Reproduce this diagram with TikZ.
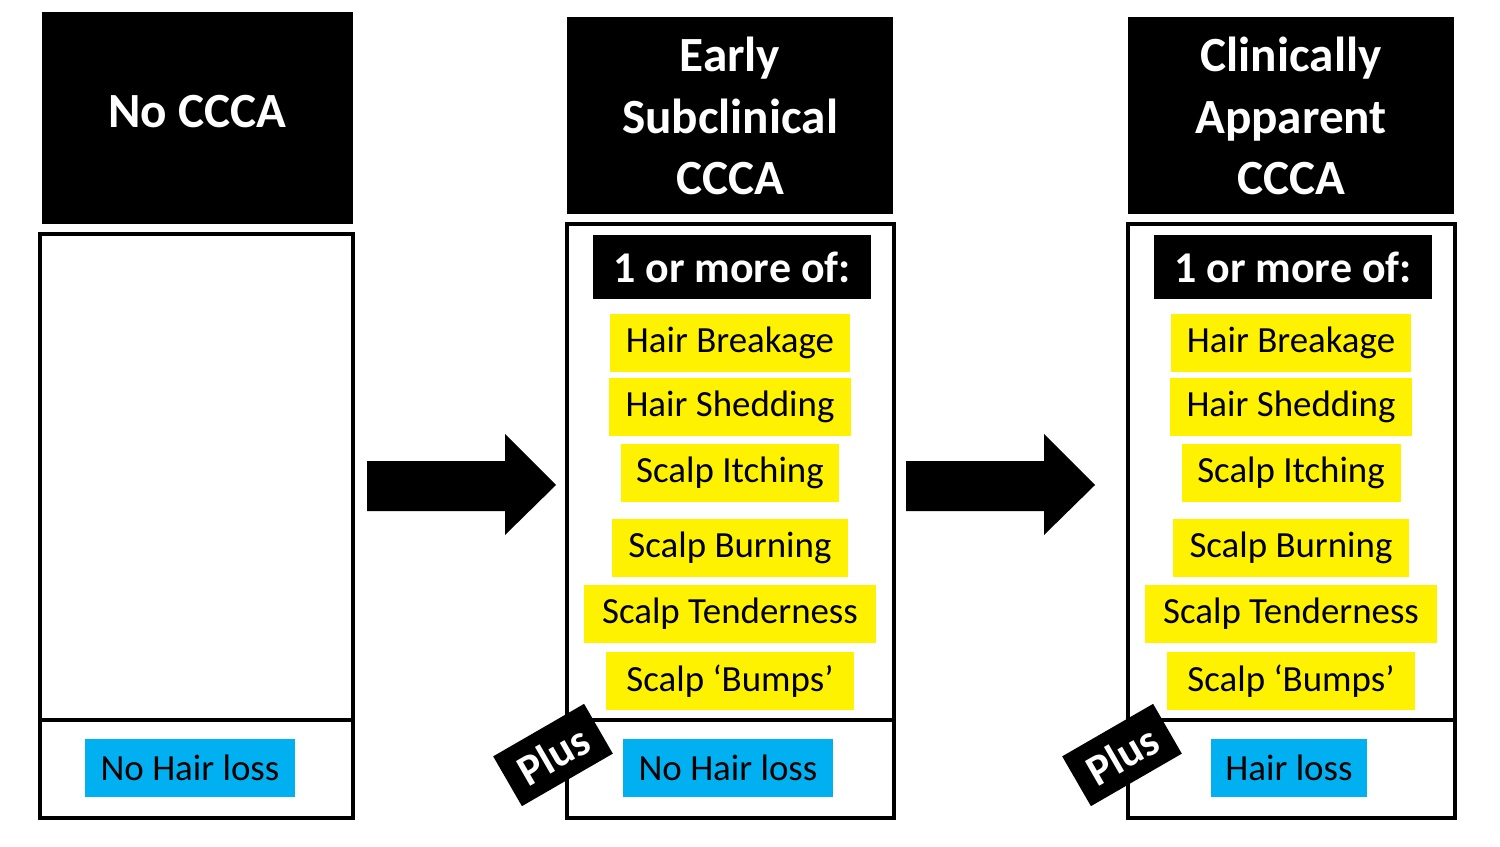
\documentclass[tikz,border=0pt]{standalone}
\usepackage{fontspec}
\setmainfont{Carlito}
\begin{document}
\begin{tikzpicture}[x=0.02cm,y=-0.02cm,
 hdr/.style={fill=black,draw=none},
 box/.style={draw=black,line width=2.2pt,fill=white},
 ht/.style={text=white,font=\fontsize{28}{35}\selectfont\bfseries,align=center},
 yl/.style={fill=yellow,inner sep=0pt,font=\fontsize{21}{24}\selectfont},
 bl/.style={fill={rgb,255:red,0;green,176;blue,240},inner sep=0pt,font=\fontsize{21}{24}\selectfont},
 blk/.style={fill=black,text=white,inner sep=0pt,font=\fontsize{25}{28}\selectfont\bfseries},
 arr/.style={fill=black}]
\useasboundingbox (0,0) rectangle (1500,847);
% column 1
\fill[hdr] (42,12) rectangle (353,224);
\node[ht] (h1) at (197.5,112) {No CCCA};
\draw[box] (40,234) rectangle (353,720);
\draw[box] (40,720) rectangle (353,818);
\node[bl,minimum width=4.2cm,minimum height=1.16cm] (b1) at (190,768) {No Hair loss};
% columns 2 and 3
\foreach \o/\po/\n/\a/\b/\c/\t/\w in {0/0/2/Early/Subclinical/CCCA/No Hair loss/4.22cm, 561/569/3/Clinically/Apparent/CCCA/Hair loss/3.12cm}{
 \begin{scope}[xshift=\o*0.02cm]
 \fill[hdr] (567,17) rectangle (893,214);
 \node[ht] (h\n) at (730,116) {\a\\\b\\\c};
 \draw[box] (567,224) rectangle (894,720);
 \draw[box] (567,720) rectangle (894,818);
 \node[blk,minimum width=5.58cm,minimum height=1.28cm] (m\n) at (732,267) {1 or more of:};
 \node[yl,minimum width=4.82cm,minimum height=1.16cm] (y1\n) at (730,343) {Hair Breakage};
 \node[yl,minimum width=4.84cm,minimum height=1.16cm] (y2\n) at (730,407) {Hair Shedding};
 \node[yl,minimum width=4.38cm,minimum height=1.18cm] (y3\n) at (730,473) {Scalp Itching};
 \node[yl,minimum width=4.74cm,minimum height=1.16cm] (y4\n) at (730,548) {Scalp Burning};
 \node[yl,minimum width=5.86cm,minimum height=1.16cm] (y5\n) at (730,614) {Scalp Tenderness};
 \node[yl,minimum width=4.98cm,minimum height=1.16cm] (y6\n) at (730,681) {Scalp ‘Bumps’};
 \node[bl,minimum width=\w,minimum height=1.16cm] (b\n) at (728,768) {\t};
 \end{scope}
 \node[blk,rotate=30,minimum width=2.1cm,minimum height=1.15cm] (p\n) at (553+\po,755) {Plus};}
% arrows
\foreach \o in {0,539}{
 \fill[arr,xshift=\o*0.02cm] (367,461) -- (505,461) -- (505,434) -- (556,485) -- (505,535) -- (505,511) -- (367,511) -- cycle;}
\end{tikzpicture}
\end{document}
